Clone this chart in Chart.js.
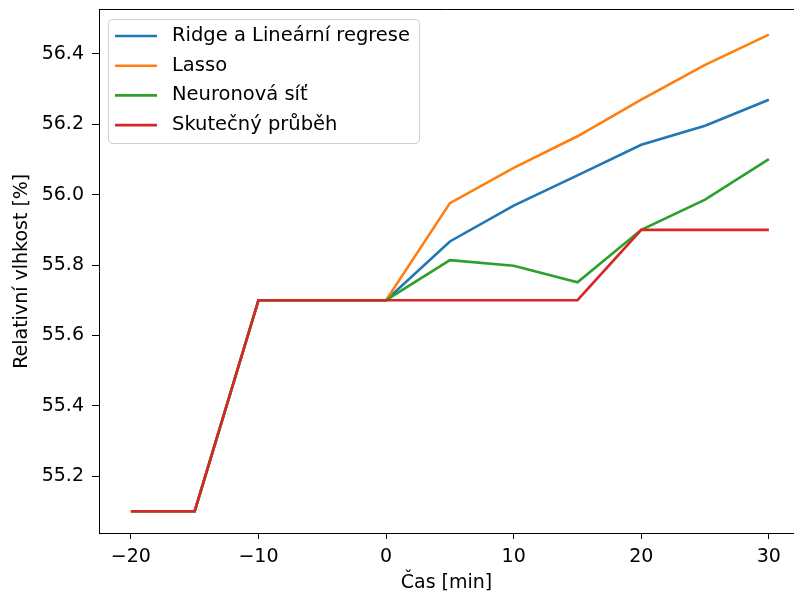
<!DOCTYPE html>
<html>
<head>
<meta charset="utf-8">
<script src="https://cdn.jsdelivr.net/npm/chart.js@4/dist/chart.umd.min.js"></script>
<style>
  html, body { margin: 0; padding: 0; background: #fff; overflow: hidden; }
</style>
</head>
<body>
<canvas id="lineChart" width="794" height="599"></canvas>
<script>
// Data
const casMin = [-20, -15, -10, -5, 0, 5, 10, 15, 20, 25, 30];
const ridge = [55.1, 55.1, 55.7, 55.7, 55.7, 55.867, 55.969, 56.055, 56.142, 56.196, 56.27];
const lasso = [55.1, 55.1, 55.7, 55.7, 55.7, 55.976, 56.076, 56.166, 56.27, 56.369, 56.455];
const neuron = [55.1, 55.1, 55.7, 55.7, 55.7, 55.814, 55.798, 55.751, 55.9, 55.986, 56.101];
const skutecny = [55.1, 55.1, 55.7, 55.7, 55.7, 55.7, 55.7, 55.7, 55.9, 55.9, 55.9];
const seriesLabels = ['Ridge a Lineární regrese', 'Lasso', 'Neuronová síť', 'Skutečný průběh'];
const xTicks = [-20, -10, 0, 10, 20, 30];
const yTicks = [55.2, 55.4, 55.6, 55.8, 56.0, 56.2, 56.4];

const barvy = ['#1f77b4', '#ff7f0e', '#2ca02c', '#d62728'];
const FONT = 'DejaVu Sans';

function body(arr) {
    return casMin.map((x, i) => ({ x: x, y: arr[i] }));
}

// horni hrana + legenda uvnitr grafu
const ramecek = {
    id: 'ramecek',
    afterDraw(chart) {
        const ctx = chart.ctx;
        const a = chart.chartArea;
        ctx.save();
        ctx.strokeStyle = '#000';
        ctx.lineWidth = 1;
        ctx.beginPath();
        ctx.moveTo(a.left, a.top);
        ctx.lineTo(a.right, a.top);
        ctx.stroke();

        // legenda
        const lx = 108.5, ly = 19.5, lw = 311, lh = 124, r = 4;
        ctx.beginPath();
        ctx.roundRect(lx, ly, lw, lh, r);
        ctx.fillStyle = 'rgba(255,255,255,0.8)';
        ctx.fill();
        ctx.strokeStyle = '#d0d0d0';
        ctx.stroke();
        ctx.font = '19.5px "' + FONT + '"';
        ctx.textBaseline = 'middle';
        ctx.textAlign = 'left';
        seriesLabels.forEach((lab, i) => {
            const y = 36 + i * 29.7;
            ctx.strokeStyle = barvy[i];
            ctx.lineWidth = 2.6;
            ctx.beginPath();
            ctx.moveTo(115, y);
            ctx.lineTo(157, y);
            ctx.stroke();
            ctx.fillStyle = '#000';
            ctx.fillText(lab, 172, y);
        });
        ctx.restore();
    }
};

const data = [ridge, lasso, neuron, skutecny];

new Chart(document.getElementById('lineChart'), {
    type: 'line',
    data: {
        datasets: data.map((arr, i) => ({
            label: seriesLabels[i],
            data: body(arr),
            borderColor: barvy[i],
            backgroundColor: barvy[i],
            borderWidth: 2.6,
            pointRadius: 0,
            tension: 0,
            order: 3 - i
        }))
    },
    options: {
        responsive: false,
        animation: false,
        layout: { padding: { top: 9.5, right: 0, left: 0, bottom: 0 } },
        plugins: {
            legend: { display: false },
            tooltip: { enabled: false }
        },
        scales: {
            x: {
                type: 'linear',
                min: -22.5,
                max: 31.97,
                afterFit: s => { s.height = 66; s.paddingLeft = 0; s.paddingRight = 0; },
                afterBuildTicks: s => { s.ticks = xTicks.map(v => ({ value: v })); },
                grid: { drawOnChartArea: false, color: '#000', tickLength: 6, tickWidth: 1 },
                border: { display: true, color: '#000', width: 1 },
                ticks: {
                    color: '#000',
                    padding: 7,
                    maxRotation: 0,
                    font: { family: FONT, size: 19 },
                    callback: v => String(v).replace('-', '\u2212')
                },
                title: {
                    display: true,
                    text: 'Čas [min]',
                    color: '#000',
                    font: { family: FONT, size: 19 },
                    padding: { top: 0, bottom: 5 }
                }
            },
            y: {
                min: 55.038,
                max: 56.5265,
                afterFit: s => { s.width = 99; s.paddingTop = 0; s.paddingBottom = 0; },
                afterBuildTicks: s => { s.ticks = yTicks.map(v => ({ value: v })); },
                grid: { drawOnChartArea: false, color: '#000', tickLength: 7, tickWidth: 1 },
                border: { display: true, color: '#000', width: 1 },
                ticks: {
                    color: '#000',
                    padding: 8,
                    font: { family: FONT, size: 19 },
                    callback: v => v.toFixed(1)
                },
                title: {
                    display: true,
                    text: 'Relativní vlhkost [%]',
                    color: '#000',
                    font: { family: FONT, size: 19 },
                    padding: { top: 11, bottom: 0 }
                }
            }
        }
    },
    plugins: [ramecek]
});
</script>
</body>
</html>
